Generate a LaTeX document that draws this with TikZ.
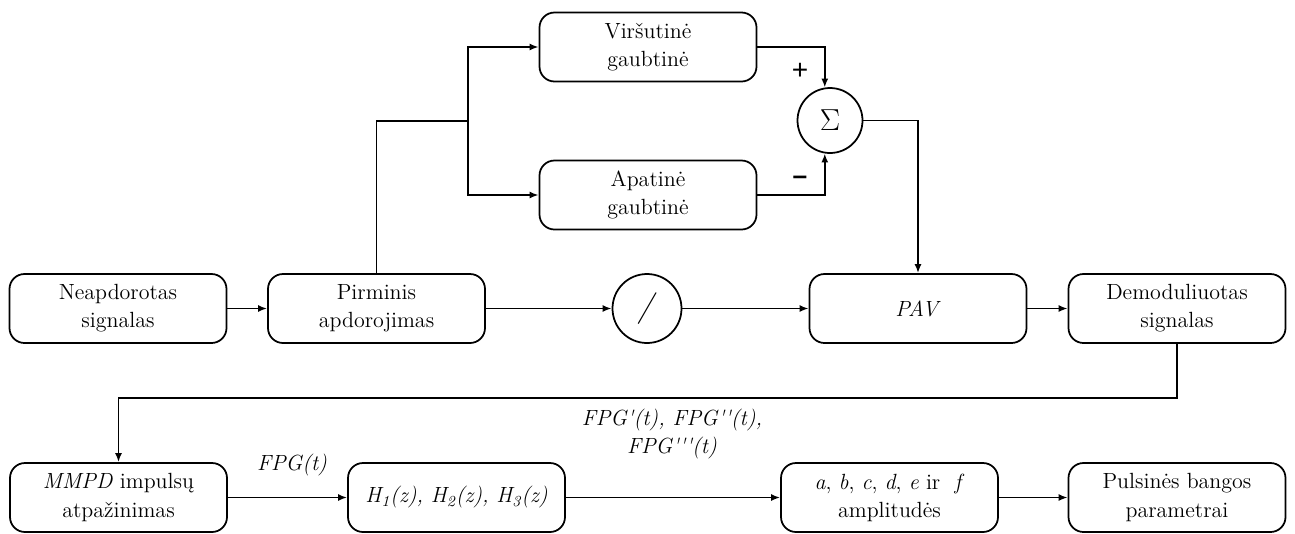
\documentclass[tikz,border=0pt]{standalone}
\usepackage{fontspec}
\newfontfamily\zenklas{Liberation Sans}
\usetikzlibrary{calc,arrows.meta}
\tikzset{
  blokas/.style={draw,rounded corners=3mm,line width=0.35mm,minimum width=43.4mm,minimum height=13.8mm,align=center,inner sep=2pt},
  apskritimas/.style={draw,circle,line width=0.35mm,inner sep=0pt},
  rodykle/.style={line width=0.35mm,-{Latex[length=1.8mm,width=1.4mm]}},
  linija/.style={line width=0.35mm}
}

\begin{document}
\begin{tikzpicture}[x=0.2mm,y=-0.2mm,font=\rmfamily\fontsize{12.5}{16}\selectfont]
\useasboundingbox (0,0) rectangle (1295,533);
\node[blokas] (nea) at (118,308.5) {Neapdorotas\\signalas};
\node[blokas] (pir) at (376.5,308.5) {Pirminis\\apdorojimas};
\node[apskritimas,minimum size=13.8mm,font=\rmfamily\fontsize{18}{18}\selectfont] (dal) at (647,308.5) {\textit{/}};
\node[blokas] (pav) at (918,308.5) {\textit{PAV}};
\node[blokas] (dem) at (1177,308.5) {Demoduliuotas\\signalas};
\node[blokas] (vir) at (648,47) {Viršutinė\\gaubtinė};
\node[blokas] (apa) at (648,195) {Apatinė\\gaubtinė};
\node[apskritimas,minimum size=13mm,font=\rmfamily\fontsize{17}{17}\selectfont] (sum) at (830,120.5) {$\Sigma$};
\node[blokas] (mmpd) at (118.5,497.5) {\textit{MMPD} impulsų\\atpažinimas};
\node[blokas] (hz) at (456.5,497.5) {\textit{H\textsubscript{1}(z), H\textsubscript{2}(z), H\textsubscript{3}(z)}};
\node[blokas] (amp) at (889.5,497.5) {\textit{a}, \textit{b}, \textit{c}, \textit{d}, \textit{e} ir \ \textit{f}\\amplitudės};
\node[blokas] (pul) at (1177,497.5) {Pulsinės bangos\\parametrai};
\node (plius) at (800,71) {\zenklas\fontsize{16}{16}\selectfont +};
\node (minus) at (800,180) {\zenklas\bfseries\fontsize{15}{15}\selectfont –};
\node (fpg) at (292,465) {\textit{FPG(t)}};
\node[align=center] (fpgd) at (672,434) {\textit{FPG\textquotesingle(t), FPG\textquotesingle\textquotesingle(t),}\\\textit{FPG\textquotesingle\textquotesingle\textquotesingle(t)}};
\coordinate (skyr) at (468,121);
\draw[rodykle] (nea) -- (pir);
\draw[rodykle] (pir) -- (dal);
\draw[rodykle] (dal) -- (pav);
\draw[rodykle] (pav) -- (dem);
\draw[linija] (pir.north) |- (skyr);
\draw[rodykle] (skyr) |- (vir.west);
\draw[rodykle] (skyr) |- (apa.west);
\draw[rodykle] (vir.east) -| (sum.99);
\draw[rodykle] (apa.east) -| (sum.-99);
\draw[rodykle] (sum.east) -| (pav.north);
\draw[rodykle] (dem.south) -- ++(0,54) -| (mmpd.north);
\draw[rodykle] (mmpd) -- (hz);
\draw[rodykle] (hz) -- (amp);
\draw[rodykle] (amp) -- (pul);
\end{tikzpicture}
\end{document}
